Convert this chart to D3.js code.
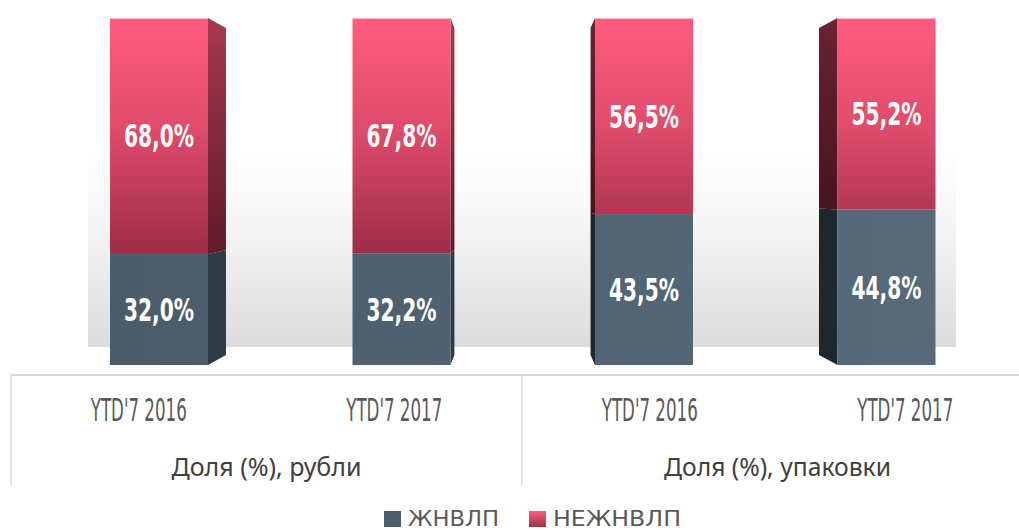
<!DOCTYPE html>
<html>
<head>
<meta charset="utf-8">
<script src="https://cdn.jsdelivr.net/npm/d3@7"></script>
<style>
  body { margin: 0; background: #fff; }
  svg { display: block; }
  .val { font-family: "Liberation Sans Narrow", "DejaVu Sans Condensed", sans-serif; font-weight: bold; fill: #fff; }
  .tick-lbl, .leg-lbl { font-family: "Liberation Sans Narrow", "DejaVu Sans Condensed", sans-serif; fill: #595959; }
  .grp-lbl { font-family: "Noto Sans", "Open Sans", sans-serif; fill: #404040; }
</style>
</head>
<body>
<svg id="chart" width="1019" height="530"></svg>
<script>
// data
const categories = ["YTD'7 2016", "YTD'7 2017", "YTD'7 2016", "YTD'7 2017"];
const groups = ["Доля (%), рубли", "Доля (%), упаковки"];
const seriesNames = ["ЖНВЛП", "НЕЖНВЛП"];
const zhnvlp = [32.0, 32.2, 43.5, 44.8];
const nezhnvlp = [68.0, 67.8, 56.5, 55.2];

const svg = d3.select("#chart");
const defs = svg.append("defs");

const rows = categories.map((c, i) => ({ id: i, cat: c, "ЖНВЛП": zhnvlp[i], "НЕЖНВЛП": nezhnvlp[i] }));
const stacked = d3.stack().keys(seriesNames)(rows);

// bar scale (front faces) and axis scale (floor labels)
const x = d3.scaleBand().domain(d3.range(categories.length)).range([37.75, 1007.75]).paddingInner(0.596).paddingOuter(0.298);
const xAxis = d3.scaleBand().domain(d3.range(categories.length)).range([11, 1033]);
const y = d3.scaleLinear().domain([0, 100]).range([365, 18]);

const fmt = d3.formatLocale({ decimal: ",", thousands: " ", grouping: [3], currency: ["", ""] }).format(".1f");

// perspective: vanishing point and depth factor
const vx = 518, vy = (y(0) + y(100)) / 2, k = 0.942;
const proj = (px, py) => [vx + k * (px - vx), vy + k * (py - vy)];

function lin(id, attrs, stops) {
  const g = defs.append("linearGradient").attr("id", id).attr("gradientUnits", "userSpaceOnUse");
  Object.entries(attrs).forEach(([a, v]) => g.attr(a, v));
  stops.forEach(([o, c]) => g.append("stop").attr("offset", o).attr("stop-color", c));
}
lin("wall", { x1: 0, y1: 150, x2: 0, y2: 347 }, [[0, "#ffffff"], [0.35, "#f6f6f6"], [1, "#dcdcdc"]]);
lin("pinkFront", { x1: 0, y1: y(100), x2: 0, y2: 262 }, [[0, "#ff5c7e"], [0.45, "#e04b6b"], [1, "#982b44"]]);
lin("grayFront", { x1: 100, y1: 0, x2: 940, y2: 0 }, [[0, "#4a5c6a"], [1, "#576a79"]]);
lin("pinkSideR", { x1: 0, y1: y(100), x2: 0, y2: 262 }, [[0, "#a6394f"], [1, "#5c1a28"]]);
lin("pinkSideL", { x1: 0, y1: y(100), x2: 0, y2: 262 }, [[0, "#6a2232"], [1, "#3e1018"]]);
lin("legPink", { x1: 0, y1: 511, x2: 0, y2: 527 }, [[0, "#ff5c7e"], [1, "#a0304a"]]);

// back wall
svg.append("rect").attr("x", 88).attr("y", 150).attr("width", 956 - 88).attr("height", 347 - 150).attr("fill", "url(#wall)");

// side faces
const sides = svg.append("g");
stacked.forEach((s, si) => {
  s.forEach((d, i) => {
    const left = x(i) + x.bandwidth() / 2 > vx;
    const ex = left ? x(i) : x(i) + x.bandwidth();
    const t = y(d[1]), b = y(d[0]);
    const pt = proj(ex, t), pb = proj(ex, b);
    let fill;
    if (si === 0) fill = left ? "#1f272e" : "#2e3b46";
    else fill = left ? "url(#pinkSideL)" : "url(#pinkSideR)";
    sides.append("path")
      .attr("d", "M" + [ex, t] + "L" + pt + "L" + pb + "L" + [ex, b] + "Z")
      .attr("fill", fill);
  });
});

// front faces
const layer = svg.append("g").selectAll("g").data(stacked).join("g")
  .attr("fill", (d, i) => i === 0 ? "url(#grayFront)" : "url(#pinkFront)");
layer.selectAll("rect").data(d => d).join("rect")
  .attr("x", (d, i) => x(i))
  .attr("y", d => y(d[1]))
  .attr("width", x.bandwidth())
  .attr("height", d => y(d[0]) - y(d[1]));

// highlight on top edge
svg.append("g").selectAll("line").data(d3.range(categories.length)).join("line")
  .attr("x1", i => x(i)).attr("x2", i => x(i) + x.bandwidth())
  .attr("y1", y(100) + 0.5).attr("y2", y(100) + 0.5)
  .attr("stroke", "#ffb3c3").attr("stroke-width", 1);

// value labels
stacked.forEach(s => {
  svg.append("g").selectAll("text").data(s).join("text")
    .attr("class", "val")
    .attr("x", (d, i) => x(i) + x.bandwidth() / 2)
    .attr("y", d => (y(d[0]) + y(d[1])) / 2 + 11.5)
    .attr("text-anchor", "middle")
    .attr("font-size", 32)
    .attr("textLength", 70)
    .attr("lengthAdjust", "spacingAndGlyphs")
    .text(d => fmt(d[1] - d[0]) + "%");
});

// axis frame
const grid = "#d9d9d9";
svg.append("line").attr("x1", 11).attr("x2", 1019).attr("y1", 375).attr("y2", 375).attr("stroke", grid).attr("stroke-width", 2);
[0, 2].forEach(i => {
  svg.append("line").attr("x1", xAxis(i)).attr("x2", xAxis(i)).attr("y1", 375).attr("y2", 485)
    .attr("stroke", grid).attr("stroke-width", 1.5);
});

// category labels
svg.append("g").selectAll("text").data(categories).join("text")
  .attr("class", "tick-lbl")
  .attr("x", (d, i) => xAxis(i) + xAxis.bandwidth() / 2)
  .attr("y", 421)
  .attr("text-anchor", "middle")
  .attr("font-size", 32)
  .attr("textLength", 96)
  .attr("lengthAdjust", "spacingAndGlyphs")
  .text(d => d);

// group labels
svg.append("g").selectAll("text").data(groups).join("text")
  .attr("class", "grp-lbl")
  .attr("x", (d, i) => xAxis(i * 2) + xAxis.bandwidth())
  .attr("y", 476)
  .attr("text-anchor", "middle")
  .attr("font-size", 25)
  .attr("textLength", (d, i) => i === 0 ? 190 : 227)
  .attr("lengthAdjust", "spacingAndGlyphs")
  .text(d => d);

// legend
const legend = svg.append("g");
const legX = [384, 529], legW = [91, 128];
seriesNames.forEach((n, i) => {
  legend.append("rect").attr("x", legX[i]).attr("y", 511).attr("width", 17).attr("height", 16)
    .attr("fill", i === 0 ? "#4b5d6b" : "url(#legPink)");
  legend.append("text").attr("class", "leg-lbl")
    .attr("x", legX[i] + 24).attr("y", 526)
    .attr("font-size", 21)
    .attr("textLength", legW[i])
    .attr("lengthAdjust", "spacingAndGlyphs")
    .text(n);
});
</script>
</body>
</html>
